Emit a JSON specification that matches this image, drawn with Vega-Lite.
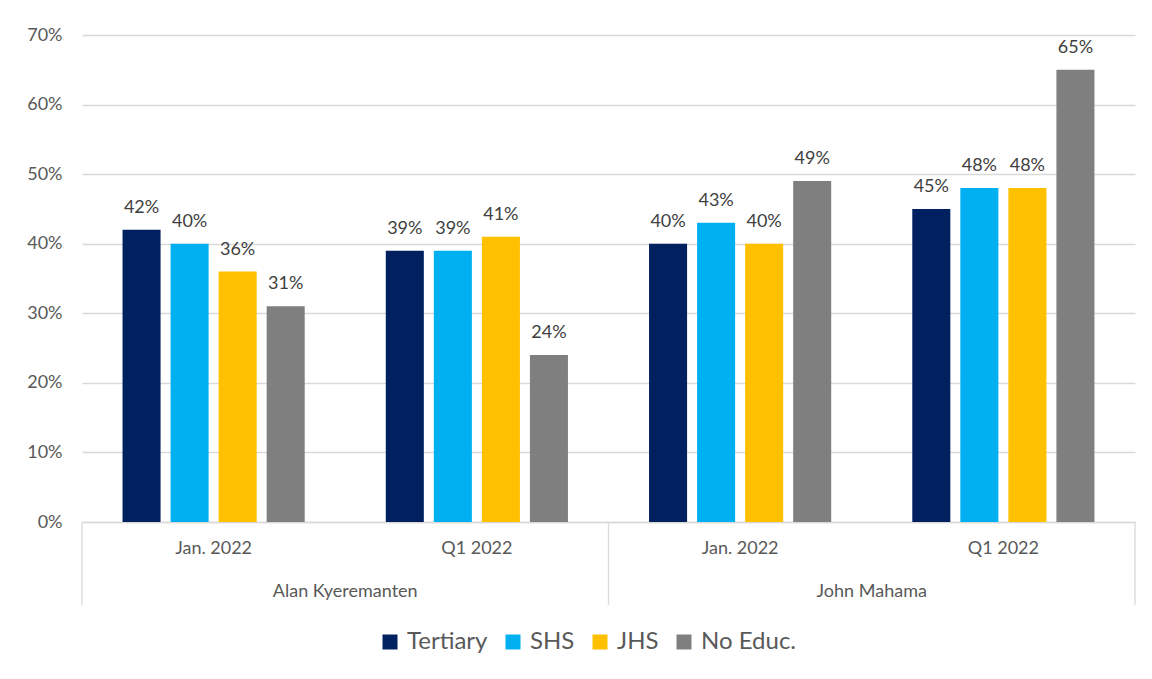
{
  "$schema": "https://vega.github.io/schema/vega-lite/v6.json",
  "autosize": {"type": "none"},
  "padding": {"left": 82, "top": 35, "right": 17, "bottom": 157},
  "width": 1053,
  "height": 487,
  "background": "white",
  "config": {
    "view": {"stroke": null},
    "font": "Lato",
    "axis": {"labelFont": "Lato", "labelColor": "#595959", "labelFontSize": 18}
  },
  "data": {
    "values": [
      {"candidate": "Alan Kyeremanten", "period": "Jan. 2022", "group": "Alan Kyeremanten|Jan. 2022", "level": "Tertiary", "value": 0.42},
      {"candidate": "Alan Kyeremanten", "period": "Jan. 2022", "group": "Alan Kyeremanten|Jan. 2022", "level": "SHS", "value": 0.40},
      {"candidate": "Alan Kyeremanten", "period": "Jan. 2022", "group": "Alan Kyeremanten|Jan. 2022", "level": "JHS", "value": 0.36},
      {"candidate": "Alan Kyeremanten", "period": "Jan. 2022", "group": "Alan Kyeremanten|Jan. 2022", "level": "No Educ.", "value": 0.31},
      {"candidate": "Alan Kyeremanten", "period": "Q1 2022", "group": "Alan Kyeremanten|Q1 2022", "level": "Tertiary", "value": 0.39},
      {"candidate": "Alan Kyeremanten", "period": "Q1 2022", "group": "Alan Kyeremanten|Q1 2022", "level": "SHS", "value": 0.39},
      {"candidate": "Alan Kyeremanten", "period": "Q1 2022", "group": "Alan Kyeremanten|Q1 2022", "level": "JHS", "value": 0.41},
      {"candidate": "Alan Kyeremanten", "period": "Q1 2022", "group": "Alan Kyeremanten|Q1 2022", "level": "No Educ.", "value": 0.24},
      {"candidate": "John Mahama", "period": "Jan. 2022", "group": "John Mahama|Jan. 2022", "level": "Tertiary", "value": 0.40},
      {"candidate": "John Mahama", "period": "Jan. 2022", "group": "John Mahama|Jan. 2022", "level": "SHS", "value": 0.43},
      {"candidate": "John Mahama", "period": "Jan. 2022", "group": "John Mahama|Jan. 2022", "level": "JHS", "value": 0.40},
      {"candidate": "John Mahama", "period": "Jan. 2022", "group": "John Mahama|Jan. 2022", "level": "No Educ.", "value": 0.49},
      {"candidate": "John Mahama", "period": "Q1 2022", "group": "John Mahama|Q1 2022", "level": "Tertiary", "value": 0.45},
      {"candidate": "John Mahama", "period": "Q1 2022", "group": "John Mahama|Q1 2022", "level": "SHS", "value": 0.48},
      {"candidate": "John Mahama", "period": "Q1 2022", "group": "John Mahama|Q1 2022", "level": "JHS", "value": 0.48},
      {"candidate": "John Mahama", "period": "Q1 2022", "group": "John Mahama|Q1 2022", "level": "No Educ.", "value": 0.65}
    ]
  },
  "encoding": {
    "x": {
      "field": "group",
      "type": "nominal",
      "scale": {
        "domain": ["Alan Kyeremanten|Jan. 2022", "Alan Kyeremanten|Q1 2022", "John Mahama|Jan. 2022", "John Mahama|Q1 2022"],
        "paddingInner": 0,
        "paddingOuter": 0
      },
      "axis": {
        "title": null,
        "labelAngle": 0,
        "labelExpr": "split(datum.label, '|')[1]",
        "ticks": false,
        "labelPadding": 17,
        "domainColor": "#d9d9d9",
        "domainWidth": 1.3,
        "grid": false
      }
    },
    "y": {
      "field": "value",
      "type": "quantitative",
      "scale": {"domain": [0, 0.7], "nice": false},
      "axis": {
        "title": null,
        "format": ".0%",
        "values": [0, 0.1, 0.2, 0.3, 0.4, 0.5, 0.6, 0.7],
        "domain": false,
        "ticks": false,
        "labelPadding": 20,
        "gridColor": "#d9d9d9",
        "gridWidth": 1.3
      }
    }
  },
  "layer": [
    {
      "mark": {"type": "bar"},
      "encoding": {
        "xOffset": {
          "field": "level",
          "type": "nominal",
          "scale": {"domain": ["Tertiary", "SHS", "JHS", "No Educ."], "paddingInner": 0.2083, "paddingOuter": 0.8437}
        },
        "color": {
          "field": "level",
          "type": "nominal",
          "scale": {"domain": ["Tertiary", "SHS", "JHS", "No Educ."], "range": ["#002060", "#00B0F0", "#FFC000", "#7F7F7F"]},
          "legend": {
            "title": null,
            "orient": "none",
            "direction": "horizontal",
            "legendX": 296,
            "legendY": 595,
            "symbolType": "square",
            "symbolSize": 225,
            "symbolStrokeWidth": 0,
            "labelFont": "Lato",
            "labelFontSize": 24,
            "labelColor": "#595959",
            "labelOffset": 5,
            "columnPadding": 13
          }
        }
      }
    },
    {
      "mark": {"type": "text", "baseline": "alphabetic", "dy": -17, "fontSize": 18, "color": "#404040", "font": "Lato"},
      "encoding": {
        "xOffset": {
          "field": "level",
          "type": "nominal",
          "scale": {"domain": ["Tertiary", "SHS", "JHS", "No Educ."], "paddingInner": 0.2083, "paddingOuter": 0.8437}
        },
        "text": {"field": "value", "type": "quantitative", "format": ".0%"}
      }
    },
    {
      "transform": [{"filter": "datum.level == 'Tertiary' && datum.period == 'Jan. 2022'"}],
      "mark": {"type": "rule", "color": "#d9d9d9", "strokeWidth": 1.3},
      "encoding": {
        "x": {"field": "group", "type": "nominal", "bandPosition": 0},
        "y": {"datum": 0},
        "y2": {"datum": -0.119}
      }
    },
    {
      "transform": [{"filter": "datum.level == 'Tertiary' && datum.group == 'John Mahama|Q1 2022'"}],
      "mark": {"type": "rule", "color": "#d9d9d9", "strokeWidth": 1.3},
      "encoding": {
        "x": {"field": "group", "type": "nominal", "bandPosition": 1},
        "y": {"datum": 0},
        "y2": {"datum": -0.119}
      }
    },
    {
      "transform": [{"filter": "datum.level == 'Tertiary' && datum.period == 'Q1 2022'"}],
      "mark": {"type": "text", "baseline": "middle", "fontSize": 18, "color": "#595959", "font": "Lato"},
      "encoding": {
        "x": {"field": "group", "type": "nominal", "bandPosition": 0},
        "y": {"datum": -0.1},
        "text": {"field": "candidate", "type": "nominal"}
      }
    }
  ]
}
